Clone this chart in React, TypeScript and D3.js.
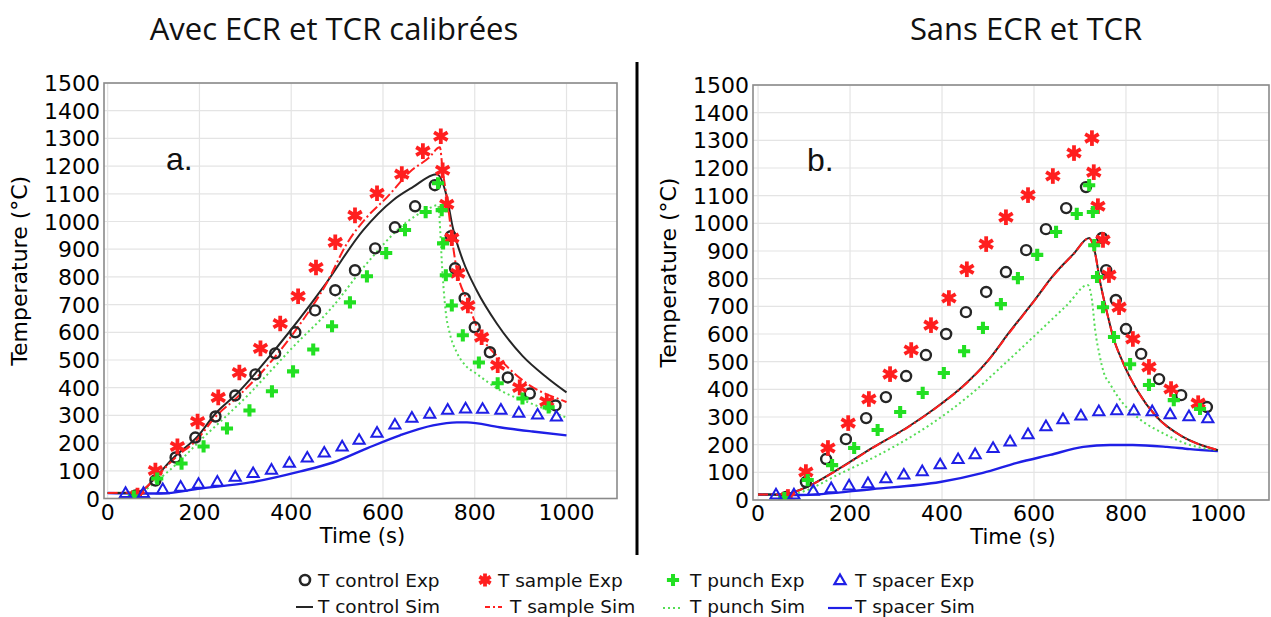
import React from 'react';
import * as d3 from 'd3';

const W = 1271;
const H = 617;

// ---------- Experimental data (identical in both panels) ----------
const controlExpTime = [61, 104, 148, 191, 235, 278, 322, 365, 409, 452, 496, 539, 583, 626, 670, 713, 748, 757, 778, 800, 833, 872, 920, 976];
const controlExpTemp = [11, 65, 148, 220, 296, 372, 448, 524, 600, 679, 752, 824, 903, 979, 1055, 1131, 947, 831, 723, 618, 528, 437, 379, 336];

const sampleExpTime = [65, 104, 152, 196, 241, 287, 333, 376, 415, 454, 496, 539, 587, 641, 687, 726, 730, 739, 750, 763, 785, 815, 850, 898, 957];
const sampleExpTemp = [11, 101, 188, 278, 365, 455, 542, 632, 730, 834, 925, 1022, 1102, 1171, 1254, 1308, 1185, 1062, 940, 813, 697, 582, 481, 401, 350];

const punchExpTime = [57, 108, 161, 209, 260, 309, 358, 404, 448, 489, 528, 565, 607, 648, 693, 720, 728, 731, 737, 750, 774, 809, 850, 904, 961];
const punchExpTemp = [7, 72, 126, 188, 253, 318, 387, 459, 538, 622, 708, 802, 886, 969, 1034, 1138, 1041, 921, 806, 697, 589, 491, 416, 361, 329];

const spacerExpTime = [39, 78, 120, 159, 198, 239, 278, 317, 357, 396, 435, 472, 511, 548, 587, 626, 663, 702, 741, 780, 817, 857, 896, 937, 978];
const spacerExpTemp = [17, 17, 31, 40, 50, 58, 76, 89, 101, 126, 145, 163, 185, 209, 235, 264, 289, 303, 318, 322, 321, 318, 307, 300, 293];

// ---------- Simulations, panel a (calibrated ECR & TCR) ----------
const aControlSimTime = [0, 60, 80, 104, 144, 196, 235, 282, 369, 470, 557, 622, 665, 717, 739, 752, 774, 804, 848, 904, 957, 1000];
const aControlSimTemp = [20, 22, 35, 76, 148, 224, 307, 379, 546, 763, 969, 1077, 1124, 1171, 1090, 979, 860, 752, 632, 515, 437, 383];

const aSampleSimTime = [0, 60, 80, 104, 144, 196, 235, 282, 369, 413, 478, 522, 565, 609, 659, 700, 724, 730, 741, 750, 761, 783, 811, 854, 913, 991, 1000];
const aSampleSimTemp = [20, 22, 35, 74, 142, 215, 295, 365, 520, 615, 780, 922, 1016, 1088, 1180, 1230, 1268, 1185, 1066, 943, 824, 716, 596, 505, 416, 354, 348];

const aPunchSimTime = [0, 60, 80, 108, 160, 202, 260, 304, 356, 404, 489, 565, 648, 693, 720, 725, 728, 732, 737, 745, 760, 780, 804, 854, 920, 1000];
const aPunchSimTemp = [20, 22, 30, 65, 140, 210, 300, 370, 462, 547, 690, 849, 993, 1041, 1059, 960, 860, 760, 670, 600, 530, 480, 450, 392, 345, 292];

const aSpacerSimTime = [0, 115, 202, 311, 420, 491, 565, 637, 709, 761, 783, 854, 926, 1000];
const aSpacerSimTemp = [20, 18, 36, 58, 98, 130, 181, 228, 264, 275, 275, 257, 242, 228];

// ---------- Simulations, panel b (without ECR & TCR) ----------
const bControlSimTime = [0, 60, 80, 106, 178, 250, 324, 396, 446, 498, 548, 598, 641, 685, 720, 733, 743, 759, 772, 794, 824, 867, 924, 1000];
const bControlSimTemp = [20, 20, 30, 47, 115, 190, 262, 345, 412, 500, 610, 715, 810, 888, 947, 892, 795, 676, 590, 495, 398, 300, 228, 180];

const bSampleSimTime = [0, 60, 80, 106, 178, 250, 324, 396, 446, 498, 548, 598, 641, 685, 720, 733, 743, 759, 772, 794, 824, 867, 924, 1000];
const bSampleSimTemp = [20, 20, 30, 47, 114, 189, 261, 344, 411, 499, 608, 714, 808, 887, 946, 890, 795, 676, 590, 495, 398, 300, 228, 181];

const bPunchSimTime = [0, 60, 85, 178, 287, 374, 461, 541, 613, 672, 717, 726, 733, 743, 752, 765, 783, 824, 880, 939, 1000];
const bPunchSimTemp = [20, 20, 25, 95, 185, 272, 380, 500, 612, 705, 777, 723, 614, 520, 459, 420, 372, 300, 242, 199, 180];

const bSpacerSimTime = [0, 91, 250, 396, 489, 563, 635, 707, 765, 815, 889, 939, 1000];
const bSpacerSimTemp = [20, 18, 40, 65, 98, 134, 163, 192, 199, 199, 192, 184, 177];

// ---------- Axis ticks & text ----------
const xTicks = [0, 200, 400, 600, 800, 1000];
const yTicks = [0, 100, 200, 300, 400, 500, 600, 700, 800, 900, 1000, 1100, 1200, 1300, 1400, 1500];
const titleA = 'Avec ECR et TCR calibrées';
const titleB = 'Sans ECR et TCR';
const xLabel = 'Time (s)';
const yLabel = 'Temperature (°C)';
const legendExp = ['T control Exp', 'T sample Exp', 'T punch Exp', 'T spacer Exp'];
const legendSim = ['T control Sim', 'T sample Sim', 'T punch Sim', 'T spacer Sim'];

const C_BLACK = '#262626';
const C_RED = '#ff1f1f';
const C_GREEN = '#22e022';
const C_GREEN_LINE = '#55dd55';
const C_BLUE = '#1f1fe6';
const AXFONT = '"DejaVu Sans", sans-serif';

const zip = (t: number[], v: number[]) => t.map((d, i) => [d, v[i]] as [number, number]);

function Star({ cx, cy, s = 7.8 }: { cx: number; cy: number; s?: number }) {
  const angles = [90, 30, -30];
  return (
    <g>
      {angles.map((a) => {
        const r = (a * Math.PI) / 180;
        return (
          <line key={a} x1={cx - s * Math.cos(r)} y1={cy - s * Math.sin(r)} x2={cx + s * Math.cos(r)} y2={cy + s * Math.sin(r)}
            stroke={C_RED} strokeWidth={3.8} />
        );
      })}
      <circle cx={cx} cy={cy} r={3.2} fill={C_RED} />
    </g>
  );
}

const crossPath = d3.symbol().type(d3.symbolCross).size(82)() as string;
const triPath = d3.symbol().type(d3.symbolTriangle).size(54)() as string;

type Frame = { x0: number; x1: number; y0: number; yb: number };

function Panel({ frame, xDomain, sims, tag, tagX, tagY }: {
  frame: Frame; xDomain: [number, number];
  sims: { t: number[]; v: number[]; color: string; dash?: string; width: number }[];
  tag: string; tagX: number; tagY: number;
}) {
  const x = d3.scaleLinear().domain(xDomain).range([frame.x0, frame.x1]);
  const y = d3.scaleLinear().domain([0, 1500]).range([frame.yb, frame.y0]);
  const line = d3.line<[number, number]>().x((d) => x(d[0])).y((d) => y(d[1])).curve(d3.curveMonotoneX);
  const clipId = 'clip' + tag.replace('.', '');
  const cx = (frame.x0 + frame.x1) / 2;
  return (
    <g>
      <defs>
        <clipPath id={clipId}>
          <rect x={frame.x0} y={frame.y0} width={frame.x1 - frame.x0} height={frame.yb - frame.y0} />
        </clipPath>
      </defs>
      <rect x={frame.x0} y={frame.y0} width={frame.x1 - frame.x0} height={frame.yb - frame.y0} fill="#fff" />
      {yTicks.map((t) => (
        <line key={'gy' + t} x1={frame.x0} x2={frame.x1} y1={y(t)} y2={y(t)} stroke="#e4e4e4" strokeWidth={1.2} />
      ))}
      {xTicks.map((t) => (
        <line key={'gx' + t} x1={x(t)} x2={x(t)} y1={frame.y0} y2={frame.yb} stroke="#e4e4e4" strokeWidth={1.2} />
      ))}
      <g clipPath={`url(#${clipId})`}>
        {sims.map((s, i) => (
          <path key={i} d={line(zip(s.t, s.v)) as string} fill="none" stroke={s.color} strokeWidth={s.width}
            strokeDasharray={s.dash} strokeLinejoin="round" />
        ))}
        {controlExpTime.map((t, i) => (
          <circle key={'c' + i} cx={x(t)} cy={y(controlExpTemp[i])} r={5} fill="none" stroke={C_BLACK} strokeWidth={2.4} />
        ))}
        {sampleExpTime.map((t, i) => (
          <Star key={'s' + i} cx={x(t)} cy={y(sampleExpTemp[i])} />
        ))}
        {punchExpTime.map((t, i) => (
          <path key={'p' + i} d={crossPath} transform={`translate(${x(t)},${y(punchExpTemp[i])})`} fill={C_GREEN} />
        ))}
        {spacerExpTime.map((t, i) => (
          <path key={'tr' + i} d={triPath} transform={`translate(${x(t)},${y(spacerExpTemp[i])})`} fill="none"
            stroke={C_BLUE} strokeWidth={2} />
        ))}
      </g>
      <rect x={frame.x0} y={frame.y0} width={frame.x1 - frame.x0} height={frame.yb - frame.y0} fill="none"
        stroke="#8a8a8a" strokeWidth={1.6} />
      {xTicks.map((t) => (
        <text key={'xt' + t} x={x(t)} y={frame.yb + 21} textAnchor="middle" fontFamily={AXFONT} fontSize={22} fill="#000">{t}</text>
      ))}
      {yTicks.map((t) => (
        <text key={'yt' + t} x={frame.x0 - 4} y={y(t) + 8} textAnchor="end" fontFamily={AXFONT} fontSize={22} fill="#000">{t}</text>
      ))}
      <text x={cx + 2} y={frame.yb + 44} textAnchor="middle" fontFamily={AXFONT} fontSize={21} fill="#000">{xLabel}</text>
      <text transform={`translate(${frame.x0 - 77},${(frame.y0 + frame.yb) / 2 - 20}) rotate(-90)`} textAnchor="middle"
        fontFamily={AXFONT} fontSize={22} fill="#000">{yLabel}</text>
      <text x={tagX} y={tagY} fontFamily='"Liberation Sans", Arial, sans-serif' fontSize={32} fill="#111">{tag}</text>
    </g>
  );
}

export default function App() {
  const frameA: Frame = { x0: 104, x1: 617, y0: 83, yb: 498.5 };
  const frameB: Frame = { x0: 753, x1: 1269, y0: 85, yb: 500 };

  const simsA = [
    { t: aSpacerSimTime, v: aSpacerSimTemp, color: C_BLUE, width: 2.4 },
    { t: aPunchSimTime, v: aPunchSimTemp, color: C_GREEN_LINE, dash: '2,3', width: 2 },
    { t: aControlSimTime, v: aControlSimTemp, color: C_BLACK, width: 2 },
    { t: aSampleSimTime, v: aSampleSimTemp, color: C_RED, dash: '10,3,2,3', width: 2 },
  ];
  const simsB = [
    { t: bSpacerSimTime, v: bSpacerSimTemp, color: C_BLUE, width: 2.4 },
    { t: bPunchSimTime, v: bPunchSimTemp, color: C_GREEN_LINE, dash: '2,3', width: 2 },
    { t: bControlSimTime, v: bControlSimTemp, color: C_BLACK, width: 2 },
    { t: bSampleSimTime, v: bSampleSimTemp, color: C_RED, dash: '10,3,2,3', width: 2 },
  ];

  const legX = [318, 498, 690, 855];
  const row1 = 587;
  const row2 = 613;
  const legFont = { fontFamily: AXFONT, fontSize: 18.5, fill: '#111' };

  return (
    <svg width={W} height={H} style={{ position: 'absolute', left: 0, top: 0, background: '#fff' }}>
      <rect width={W} height={H} fill="#fff" />
      <text x={334} y={40} textAnchor="middle" fontFamily='"Open Sans", sans-serif' fontSize={31} fill="#111">{titleA}</text>
      <text x={1026} y={40} textAnchor="middle" fontFamily='"Open Sans", sans-serif' fontSize={31} fill="#111">{titleB}</text>
      <line x1={637} x2={637} y1={62} y2={555} stroke="#000" strokeWidth={3} />
      <Panel frame={frameA} xDomain={[-8, 1110]} sims={simsA} tag="a." tagX={166} tagY={170} />
      <Panel frame={frameB} xDomain={[-11, 1111]} sims={simsB} tag="b." tagX={807} tagY={171} />

      {/* legend */}
      <circle cx={305} cy={row1 - 7} r={5} fill="none" stroke={C_BLACK} strokeWidth={2.6} />
      <Star cx={485} cy={row1 - 7} s={6.5} />
      <path d={crossPath} transform={`translate(${673},${row1 - 7})`} fill={C_GREEN} />
      <path d={triPath} transform={`translate(${840},${row1 - 6})`} fill="none" stroke={C_BLUE} strokeWidth={2.2} />
      {legendExp.map((s, i) => (
        <text key={s} x={legX[i]} y={row1} {...legFont}>{s}</text>
      ))}
      <line x1={296} x2={313} y1={row2 - 6} y2={row2 - 6} stroke={C_BLACK} strokeWidth={2} />
      <line x1={485} x2={502} y1={row2 - 6} y2={row2 - 6} stroke={C_RED} strokeWidth={2} strokeDasharray="5,3,2,3" />
      <line x1={663} x2={681} y1={row2 - 5} y2={row2 - 5} stroke={C_GREEN_LINE} strokeWidth={2} strokeDasharray="2,3" />
      <line x1={828} x2={852} y1={row2 - 5} y2={row2 - 5} stroke={C_BLUE} strokeWidth={2.2} />
      {legendSim.map((s, i) => (
        <text key={s} x={i === 1 ? 510 : legX[i]} y={row2} {...legFont}>{s}</text>
      ))}
    </svg>
  );
}
